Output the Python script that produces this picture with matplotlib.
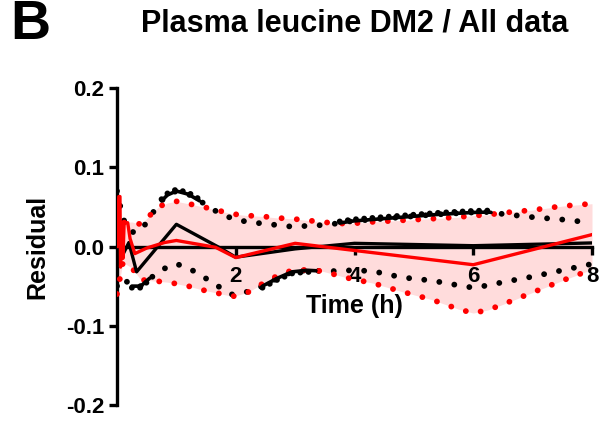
import numpy as np
import matplotlib
matplotlib.use("Agg")
import matplotlib.pyplot as plt

plt.rcParams['font.family'] = ['Liberation Sans', 'DejaVu Sans']
plt.rcParams['font.weight'] = 'bold'

# ---- data ----
t_band = [0.0, 0.1, 0.25, 0.4, 0.55, 0.7, 0.85, 1.0, 1.2, 1.45, 1.7, 1.95, 2.2, 2.45,
          2.7, 2.95, 3.2, 3.45, 3.7, 3.95, 4.3, 4.8, 5.3, 5.75, 6.0, 6.25, 6.5, 7.0, 7.5, 8.0]
red_upper = [0.046, 0.030, 0.031, 0.028, 0.039, 0.050, 0.055, 0.057, 0.054, 0.050, 0.0455,
             0.041, 0.039, 0.038, 0.036, 0.035, 0.033, 0.031, 0.029, 0.029, 0.031, 0.033,
             0.035, 0.037, 0.039, 0.040, 0.0425, 0.046, 0.051, 0.054]
red_lower = [-0.060, -0.020, -0.027, -0.042, -0.043, -0.044, -0.045, -0.047, -0.050, -0.055,
             -0.059, -0.063, -0.058, -0.047, -0.037, -0.030, -0.0295, -0.031, -0.036, -0.041,
             -0.046, -0.057, -0.067, -0.079, -0.084, -0.080, -0.073, -0.058, -0.043, -0.029]
black_upper = [0.070, 0.035, 0.018, 0.020, 0.036, 0.054, 0.065, 0.070, 0.066, 0.055, 0.043,
               0.035, 0.031, 0.029, 0.027, 0.025, 0.026, 0.027, 0.029, 0.032, 0.034, 0.037,
               0.040, 0.042, 0.043, 0.0435, 0.041, 0.037, 0.034, 0.030]
black_lower = [-0.050, -0.040, -0.050, -0.050, -0.040, -0.034, -0.025, -0.022, -0.027, -0.038,
               -0.050, -0.061, -0.057, -0.050, -0.040, -0.032, -0.030, -0.031, -0.031, -0.030,
               -0.031, -0.039, -0.043, -0.049, -0.052, -0.049, -0.045, -0.038, -0.030, -0.022]

t_red = [0.0, 0.03, 0.05, 0.06, 0.08, 0.1, 0.12, 0.18, 0.22, 0.3, 0.5, 0.8, 1.0, 1.66,
         2.0, 3.0, 4.0, 6.0, 8.0]
red_mean = [0.0, 0.063, 0.063, -0.026, 0.03, -0.015, 0.03, 0.03, 0.01, -0.009, -0.002,
            0.005, 0.0076, -0.001, -0.014, 0.004, -0.005, -0.023, 0.015]
t_black = [0.0, 0.05, 0.1, 0.2, 0.33, 1.0, 1.74, 2.0, 3.0, 4.0, 6.0, 8.0]
black_mean = [0.0, 0.02, -0.01, 0.005, -0.032, 0.028, -0.002, -0.0135, -0.003, 0.004,
              0.001, 0.0045]

# ranges where the black band samples are dense
dense_upper = [(0.75, 1.4), (3.75, 6.3)]
dense_lower = [(0.25, 0.55), (2.45, 3.35)]

x_ticks = [2, 4, 6, 8]
y_ticks = [-0.2, -0.1, 0.0, 0.1, 0.2]
y_ticklabels = ['-0.2', '-0.1', '0.0', '0.1', '0.2']

# ---- figure ----
fig = plt.figure(figsize=(6.05, 4.23), dpi=100)
ax = fig.add_axes([117/605, 1-405/423, (592-117)/605, (405-88)/423])

tb = np.array(t_band)
ax.fill_between(tb, red_lower, red_upper, color='#ffdcdc', lw=0, zorder=1)

dot = dict(linestyle=(0, (0.01, 2.6)), linewidth=4.2, dash_capstyle='round', zorder=3)
ax.plot(tb, black_upper, color='black', **dot)
ax.plot(tb, black_lower, color='black', **dot)
ax.plot(tb, red_upper, color='red', **dot)
ax.plot(tb, red_lower, color='red', **dot)

fine = np.linspace(0, 8, 801)
bu = np.interp(fine, tb, black_upper)
bl = np.interp(fine, tb, black_lower)
for a, b in dense_upper:
    m = (fine >= a) & (fine <= b)
    ax.plot(fine[m], bu[m], color='black', lw=2.6, solid_capstyle='round', zorder=3)
    ax.plot(fine[m], bu[m] + 0.002, color='black', linestyle=(0, (0.01, 1.4)), lw=4.2,
            dash_capstyle='round', zorder=3)
for a, b in dense_lower:
    m = (fine >= a) & (fine <= b)
    ax.plot(fine[m], bl[m], color='black', lw=2.6, solid_capstyle='round', zorder=3)
    ax.plot(fine[m], bl[m] - 0.002, color='black', linestyle=(0, (0.01, 1.4)), lw=4.2,
            dash_capstyle='round', zorder=3)

ax.plot(t_black, black_mean, color='black', lw=2.4, zorder=4)
ax.plot(t_red, red_mean, color='red', lw=2.4, zorder=5)

ax.set_xlim(0, 8)
ax.set_ylim(-0.2, 0.2)
for s in ['top', 'right']:
    ax.spines[s].set_visible(False)
ax.spines['bottom'].set_position(('data', 0))
ax.spines['left'].set_linewidth(2.4)
ax.spines['bottom'].set_linewidth(2.4)
ax.spines['bottom'].set_zorder(2)

ax.set_xticks(x_ticks)
ax.set_xticklabels([str(v) for v in x_ticks])
ax.set_yticks(y_ticks)
ax.set_yticklabels(y_ticklabels)
ax.tick_params(axis='both', width=2.4, length=6, labelsize=16, direction='out')
ax.tick_params(axis='x', pad=8)
ax.tick_params(axis='y', pad=3)
for lab in ax.get_xticklabels() + ax.get_yticklabels():
    lab.set_fontweight('bold')

ax.set_ylabel('Residual', fontsize=18, fontweight='bold', labelpad=12)
fig.text(354/605, 1-306/423, 'Time (h)', fontsize=18, fontweight='bold',
         ha='center', va='center')
fig.text(355/605, 1-23/423, 'Plasma leucine DM2 / All data', fontsize=22,
         fontweight='bold', ha='center', va='center')
fig.text(10/605, 1-25/423, 'B', fontsize=40, fontweight='bold', ha='left', va='center')

fig.savefig('out.png', dpi=100)
